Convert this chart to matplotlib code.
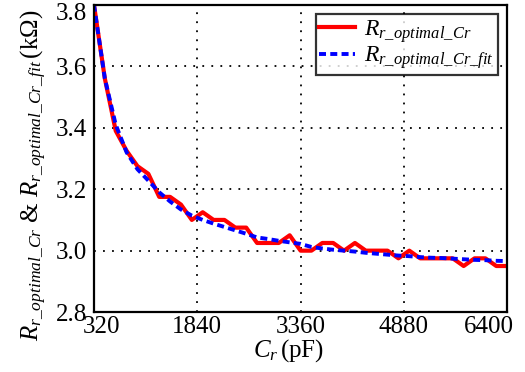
import numpy as np
import matplotlib.pyplot as plt
import matplotlib.transforms as mtransforms

plt.rcParams['font.family'] = 'Liberation Serif'
plt.rcParams['mathtext.fontset'] = 'custom'
plt.rcParams['mathtext.rm'] = 'Liberation Serif'
plt.rcParams['mathtext.it'] = 'Liberation Serif:italic'

# capacitance steps (pF)
cr = np.arange(320, 6401, 160)

# measured optimal resistance (kOhm)
r_opt = [3.80, 3.56, 3.39, 3.325, 3.275, 3.25, 3.175, 3.175, 3.15, 3.10,
         3.125, 3.10, 3.10, 3.075, 3.075, 3.025, 3.025, 3.025, 3.05, 3.00,
         3.00, 3.025, 3.025, 3.00, 3.025, 3.00, 3.00, 3.00, 2.975, 3.00,
         2.975, 2.975, 2.975, 2.975, 2.95, 2.975, 2.975, 2.95, 2.95]

# fitted curve (kOhm)
r_fit = [3.80, 3.56, 3.41, 3.32, 3.265, 3.228, 3.19, 3.16, 3.134, 3.114,
         3.10, 3.088, 3.077, 3.066, 3.055, 3.043, 3.038, 3.032, 3.027, 3.022,
         3.012, 3.007, 3.003, 3.00, 2.997, 2.993, 2.99, 2.987, 2.984, 2.982,
         2.979, 2.977, 2.976, 2.974, 2.972, 2.97, 2.969, 2.967, 2.966]

xticks = [320, 1840, 3360, 4880, 6400]
yticks = [2.8, 3.0, 3.2, 3.4, 3.6, 3.8]

fig = plt.figure(figsize=(5.25, 3.72), dpi=100)
ax = fig.add_axes([0.179, 0.161, 0.787, 0.826])

ax.plot(cr, r_opt, color='red', lw=3.0, label=r'$R_{r\_optimal\_Cr}$')
ax.plot(cr, r_fit, color='blue', lw=2.8, dashes=(1.8, 1.1),
        label=r'$R_{r\_optimal\_Cr\_fit}$')

ax.set_xlim(320, 6400)
ax.set_ylim(2.8, 3.8)
ax.set_xticks(xticks)
ax.set_yticks(yticks)
ax.set_yticklabels(['%.1f' % v for v in yticks])
ax.tick_params(length=0, labelsize=18)
ax.tick_params(axis='x', pad=3)
ax.tick_params(axis='y', pad=5)
ax.grid(True, color='black', ls=(0, (1, 4)), lw=1.3)

# keep the end labels inside the figure, like the original
def shift(lbl, dx, dy):
    lbl.set_transform(lbl.get_transform() +
                      mtransforms.ScaledTranslation(dx / 100, dy / 100, fig.dpi_scale_trans))

xl = ax.get_xticklabels()
shift(xl[0], 8, 0)
shift(xl[-1], -18, 0)
yl = ax.get_yticklabels()
shift(yl[-1], 0, -7)

for s in ax.spines.values():
    s.set_linewidth(1.6)

ax.set_xlabel(r'$C_r\,$(pF)', fontsize=18)
ax.xaxis.set_label_coords(0.47, -0.08)
ax.set_ylabel(r'$R_{r\_optimal\_Cr}$ & $R_{r\_optimal\_Cr\_fit}\,$(k$\Omega$)',
              fontsize=18)
ax.yaxis.set_label_coords(-0.11, 0.445)

leg = ax.legend(loc='upper right', fontsize=17, frameon=True, fancybox=False,
                handlelength=1.5, borderpad=0.15, labelspacing=0.0,
                handletextpad=0.4, borderaxespad=0.4)
leg.get_frame().set_edgecolor('black')
leg.get_frame().set_linewidth(1.6)

fig.savefig('out.png', dpi=100)
